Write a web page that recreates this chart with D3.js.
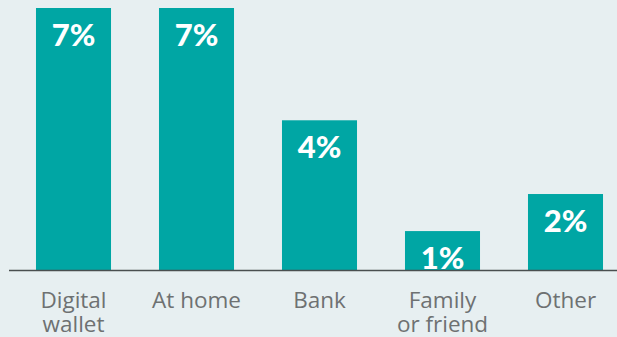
<!DOCTYPE html>
<html>
<head>
<meta charset="utf-8">
<script src="https://cdn.jsdelivr.net/npm/d3@7"></script>
<style>
  html, body { margin: 0; padding: 0; background: #e7eff1; }
  svg { display: block; }
</style>
</head>
<body>
<div id="chart"></div>
<script>
const categories = ["Digital\nwallet", "At home", "Bank", "Family\nor friend", "Other"];
const values = [7, 7, 4, 1.04, 2.03];
const valueLabels = ["7%", "7%", "4%", "1%", "2%"];

const width = 617, height = 337;
const baseline = 270;

const svg = d3.select("#chart").append("svg")
    .attr("width", width)
    .attr("height", height);

svg.append("rect")
    .attr("width", width)
    .attr("height", height)
    .attr("fill", "#e7eff1");

const x = d3.scaleBand()
    .domain(d3.range(categories.length))
    .range([12, 627])
    .paddingInner(0.39)
    .paddingOuter(0.195);

const y = d3.scaleLinear()
    .domain([0, 7])
    .range([baseline, 8]);

const g = svg.selectAll("g.bar")
    .data(values)
    .enter()
    .append("g")
    .attr("class", "bar");

g.append("rect")
    .attr("x", (d, i) => x(i))
    .attr("y", d => y(d))
    .attr("width", x.bandwidth())
    .attr("height", d => baseline - y(d))
    .attr("fill", "#00a6a4");

g.append("text")
    .attr("x", (d, i) => x(i) + x.bandwidth() / 2)
    .attr("y", d => y(d) + 37.5)
    .attr("text-anchor", "middle")
    .attr("fill", "#ffffff")
    .style("font-family", "Lato, sans-serif")
    .style("font-weight", "900")
    .style("font-size", "31px")
    .text((d, i) => valueLabels[i]);

// baseline axis
svg.append("line")
    .attr("x1", 9)
    .attr("x2", width)
    .attr("y1", baseline + 0.5)
    .attr("y2", baseline + 0.5)
    .attr("stroke", "#4a4f50")
    .attr("stroke-width", 1.5);

// category labels, one text per line
categories.forEach((c, i) => {
    c.split("\n").forEach((line, j) => {
        svg.append("text")
            .attr("class", "cat")
            .attr("x", x(i) + x.bandwidth() / 2)
            .attr("y", 308 + j * 23.5)
            .attr("text-anchor", "middle")
            .attr("fill", "#6e7172")
            .style("font-family", "'Open Sans', sans-serif")
            .style("font-size", "22.5px")
            .text(line);
    });
});
</script>
</body>
</html>
